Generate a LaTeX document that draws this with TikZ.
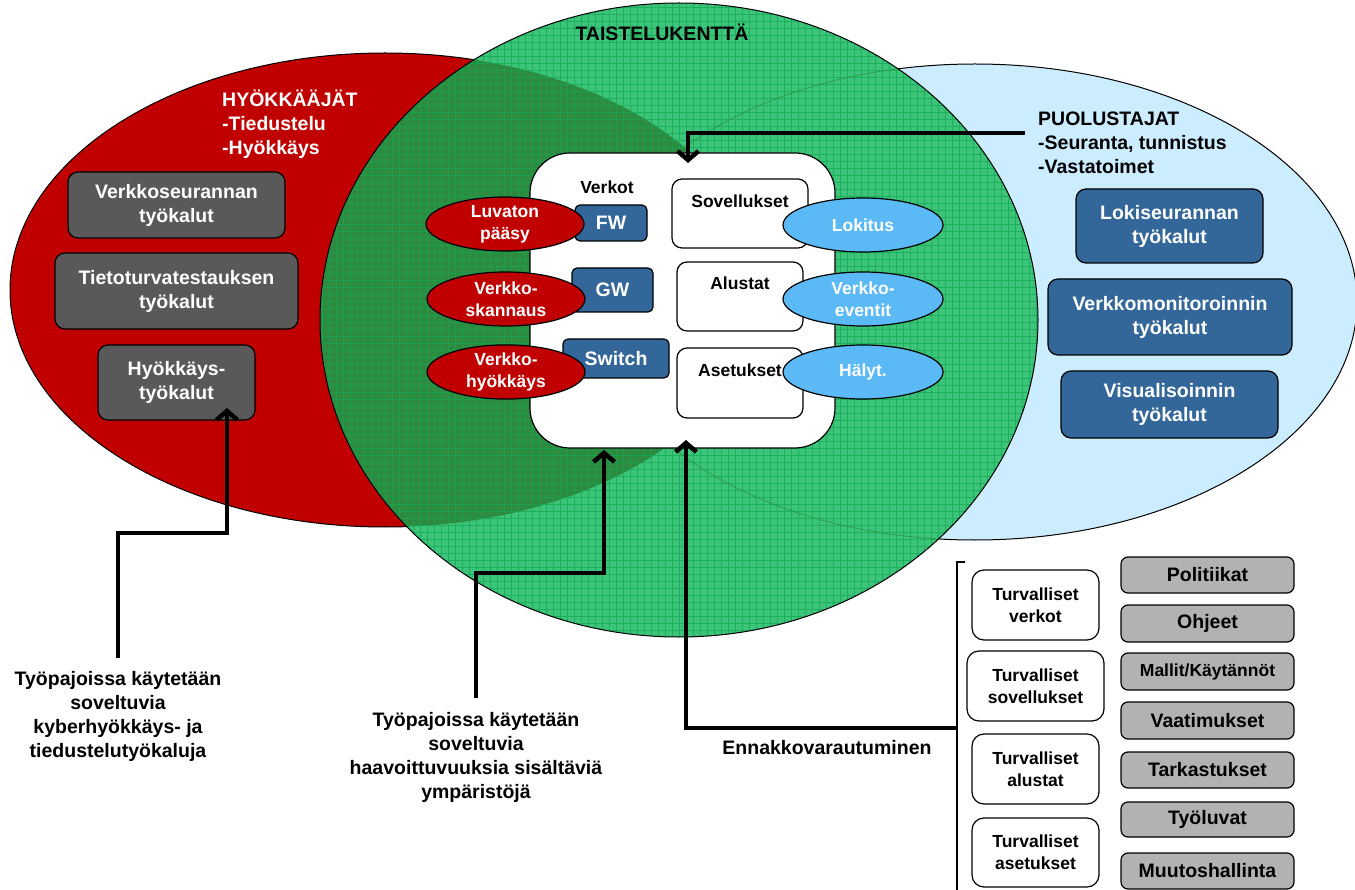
\documentclass[tikz,border=0pt]{standalone}
\usepackage{fontspec}
\setmainfont{Liberation Sans}
\usetikzlibrary{arrows.meta,shapes.geometric}

\definecolor{attackred}{HTML}{C00000}
\definecolor{defsky}{HTML}{CCECFF}
\definecolor{fieldgreen}{HTML}{3CC47A}
\definecolor{fielddark}{HTML}{2E8A3E}
\definecolor{gridgreen}{HTML}{14A852}
\definecolor{toolgray}{HTML}{595959}
\definecolor{toolblue}{HTML}{336699}
\definecolor{monblue}{HTML}{5BBAF5}
\definecolor{policygray}{HTML}{B2B2B2}

\newcommand\fntL{\bfseries\fontsize{19.5}{24}\selectfont}
\newcommand\fntS{\bfseries\fontsize{17.5}{22}\selectfont}

\tikzset{
  outline/.style={draw=black, line width=1.2pt},
  tool/.style={outline, rounded corners=10pt, fill=toolgray, text=white,
    font=\fntL, align=center, inner sep=0pt},
  deftool/.style={outline, rounded corners=10pt, fill=toolblue, text=white,
    font=\fntL, align=center, inner sep=0pt},
  netdev/.style={outline, rounded corners=5pt, fill=toolblue, text=white,
    font=\fntL, inner sep=0pt},
  layerbox/.style={outline, rounded corners=10pt, fill=white, inner sep=0pt},
  attack/.style={ellipse, outline, fill=attackred, text=white, font=\fntS,
    align=center, inner sep=0pt, minimum width=158pt, minimum height=54pt},
  monitor/.style={ellipse, outline, fill=monblue, text=white, font=\fntS,
    align=center, inner sep=0pt, minimum width=160pt, minimum height=54pt},
  securebox/.style={outline, rounded corners=12pt, fill=white, font=\fntS,
    align=center, inner sep=0pt},
  policy/.style={outline, rounded corners=7pt, fill=policygray, font=\fntL,
    inner sep=0pt, minimum width=173pt},
  caption/.style={font=\fntL, align=center, inner sep=0pt},
  arr/.style={line width=4.5pt, -{Straight Barb[length=9pt,width=21pt]}},
}

\begin{document}
\begin{tikzpicture}[x=1pt,y=-1pt]
\useasboundingbox (0,0) rectangle (1355,890);
\clip (0,0) rectangle (1355,890);

% the three areas: attackers, defenders, battlefield
\fill[attackred] (385,290) ellipse [x radius=375pt, y radius=237pt];
\draw[line width=1pt] (385,290) ellipse [x radius=375pt, y radius=237pt];
\fill[defsky] (975,302) ellipse [x radius=382pt, y radius=238pt];
\draw[line width=1pt] (975,302) ellipse [x radius=382pt, y radius=238pt];

\fill[fieldgreen] (679,320) ellipse [x radius=359pt, y radius=317pt];
\begin{scope}
  \clip (679,320) ellipse [x radius=359pt, y radius=317pt];
  \fill[fielddark] (385,290) ellipse [x radius=375pt, y radius=237pt];
  \draw[gridgreen, line width=0.6pt, opacity=0.75, step=7pt] (310,0) grid (1045,645);
  \draw[fielddark, line width=0.7pt, opacity=0.8] (975,302) ellipse [x radius=382pt, y radius=238pt];
\end{scope}
\draw[line width=1pt] (679,320) ellipse [x radius=359pt, y radius=317pt];

\node[font=\fntL, inner sep=0pt] (field) at (662,32) {TAISTELUKENTTÄ};

% attackers
\node[font=\fntL, text=white, align=left, anchor=west, inner sep=0pt] (attackers)
  at (222,124) {HYÖKKÄÄJÄT\\-Tiedustelu\\-Hyökkäys};
\node[tool, minimum width=217pt, minimum height=66pt] (vs) at (176.5,205) {Verkkoseurannan\\työkalut};
\node[tool, minimum width=243pt, minimum height=76pt] (tt) at (176.5,291) {Tietoturvatestauksen\\työkalut};
\node[tool, minimum width=157pt, minimum height=75pt] (hk) at (176.5,382.5) {Hyökkäys-\\työkalut};

% defenders
\node[font=\fntL, align=left, anchor=west, inner sep=0pt] (defenders)
  at (1038,143) {PUOLUSTAJAT\\-Seuranta, tunnistus\\-Vastatoimet};
\node[deftool, minimum width=187pt, minimum height=74pt] (ls) at (1169.5,226) {Lokiseurannan\\työkalut};
\node[deftool, minimum width=244pt, minimum height=76pt] (vm) at (1170,317) {Verkkomonitoroinnin\\työkalut};
\node[deftool, minimum width=217pt, minimum height=67pt] (vi) at (1169.5,404.5) {Visualisoinnin\\työkalut};

% target environment
\node[outline, fill=white, rounded corners=40pt, minimum width=305pt, minimum height=295pt] (cbox) at (682.5,300.5) {};
\node[font=\fntS, inner sep=0pt] (verkot) at (607,187) {Verkot};
\node[netdev, minimum width=72pt, minimum height=36pt] (fw) at (611,223) {FW};
\node[netdev, minimum width=81pt, minimum height=44pt] (gw) at (612.5,290) {GW};
\node[netdev, minimum width=106pt, minimum height=39pt] (sw) at (616,358.5) {Switch};

\node[layerbox, minimum width=136pt, minimum height=69pt] (sov) at (740,213.5) {};
\node[font=\fntS, inner sep=0pt] (sovt) at (740,201) {Sovellukset};
\node[layerbox, minimum width=126pt, minimum height=69pt] (alu) at (740,296.5) {};
\node[font=\fntS, inner sep=0pt] (alut) at (740,283) {Alustat};
\node[layerbox, minimum width=126pt, minimum height=70pt] (ase) at (740,383) {};
\node[font=\fntS, inner sep=0pt] (aset) at (740,370) {Asetukset};

\node[attack] (luv) at (505,224) {Luvaton\\pääsy};
\node[attack] (skan) at (506,299) {Verkko-\\skannaus};
\node[attack] (hyo) at (506,372) {Verkko-\\hyökkäys};

\node[monitor] (lok) at (863,225) {Lokitus};
\node[monitor] (eve) at (863,299) {Verkko-\\eventit};
\node[monitor] (hal) at (863,372) {Hälyt.};

% captions below
\node[caption] (atk) at (118,716) {Työpajoissa käytetään\\soveltuvia\\kyberhyökkäys- ja\\tiedustelutyökaluja};
\node[caption] (env) at (476,757.5) {Työpajoissa käytetään\\soveltuvia\\haavoittuvuuksia sisältäviä\\ympäristöjä};
\node[caption] (enn) at (827,748) {Ennakkovarautuminen};

% preparedness list
\node[securebox, minimum width=127pt, minimum height=70pt] (t1) at (1035.5,605) {Turvalliset\\verkot};
\node[securebox, minimum width=137pt, minimum height=70pt] (t2) at (1035.5,686) {Turvalliset\\sovellukset};
\node[securebox, minimum width=127pt, minimum height=70pt] (t3) at (1035.5,769) {Turvalliset\\alustat};
\node[securebox, minimum width=127pt, minimum height=69pt] (t4) at (1035.5,852.5) {Turvalliset\\asetukset};

\node[policy, minimum height=36pt] (p1) at (1207.5,575) {Politiikat};
\node[policy, minimum height=37pt] (p2) at (1207.5,623.5) {Ohjeet};
\node[policy, minimum height=37pt, font=\fntS] (p3) at (1207.5,671.5) {Mallit/Käytännöt};
\node[policy, minimum height=37pt] (p4) at (1207.5,720.5) {Vaatimukset};
\node[policy, minimum height=36pt] (p5) at (1207.5,770) {Tarkastukset};
\node[policy, minimum height=35pt] (p6) at (1207.5,819.5) {Työluvat};
\node[policy, minimum height=36pt] (p7) at (1207.5,871) {Muutoshallinta};

% bracket grouping the list
\coordinate (brtop) at (965,562);
\coordinate (brcorner) at (957,562);
\coordinate (brbottom) at (957,890);
\coordinate (brmid) at (957,728);
\draw[line width=1.5pt] (brtop) -- (brcorner) -- (brbottom);

% connectors
\coordinate (puolstart) at (1025,133);
\coordinate (toptip) at (688,163);
\draw[arr] (puolstart) -| (toptip);

\coordinate (enntip) at (686,440);
\draw[arr] (brmid) -| (enntip);

\coordinate (envstart) at (476,698);
\coordinate (envbend) at (476,573);
\coordinate (envtip) at (604,450);
\draw[arr] (envstart) -- (envbend) -| (envtip);

\coordinate (atkstart) at (118,658);
\coordinate (atkbend) at (118,533);
\coordinate (hktip) at (227,408);
\draw[arr] (atkstart) -- (atkbend) -| (hktip);
\end{tikzpicture}
\end{document}
